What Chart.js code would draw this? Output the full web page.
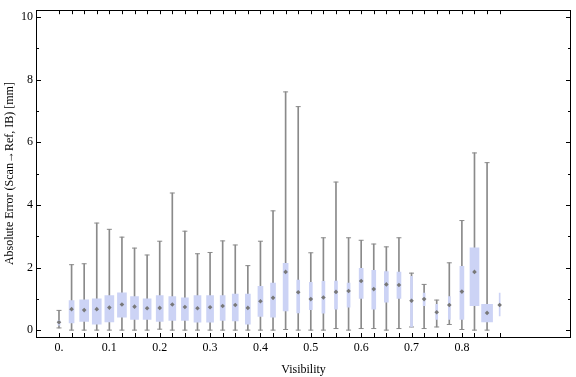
<!DOCTYPE html>
<html>
<head>
<meta charset="utf-8">
<script src="https://cdn.jsdelivr.net/npm/chart.js@4.4.1/dist/chart.umd.min.js"></script>
<style>
  body { margin: 0; background: #fff; }
  #box { display: block; }
</style>
</head>
<body>
<canvas id="box" width="576" height="377"></canvas>
<script>
// visibility bins (x position of each box)
var visibility = [0, 0.025, 0.05, 0.075, 0.1, 0.125, 0.15, 0.175, 0.2, 0.225, 0.25, 0.275,
  0.3, 0.325, 0.35, 0.375, 0.4, 0.425, 0.45, 0.475, 0.5, 0.525, 0.55, 0.575,
  0.6, 0.625, 0.65, 0.675, 0.7, 0.725, 0.75, 0.775, 0.8, 0.825, 0.85, 0.875];

// absolute error stats [mm]
var whiskerLow = [0.07, 0, 0, 0, 0, 0, 0, 0, 0.03, 0, 0, 0,
  0, 0, 0, 0, 0, 0, 0.02, 0, 0, 0, 0.05, 0,
  0.05, 0.05, 0, 0.05, 0.10, 0.05, 0.10, 0.18, 0.02, 0, 0, null];
var quart1 = [0.16, 0.23, 0.28, 0.19, 0.26, 0.41, 0.34, 0.34, 0.28, 0.31, 0.31, 0.25,
  0.25, 0.31, 0.29, 0.19, 0.44, 0.41, 0.61, 0.55, 0.65, 0.54, 0.67, 0.73,
  1.01, 0.67, 0.89, 1.01, 0.10, 0.78, 0.34, 0.34, 0.34, 0.78, 0.26, 0.45];
var median = [0.25, 0.67, 0.64, 0.67, 0.72, 0.82, 0.75, 0.70, 0.71, 0.82, 0.74, 0.70,
  0.73, 0.77, 0.80, 0.71, 0.92, 1.03, 1.86, 1.21, 0.99, 1.04, 1.22, 1.25,
  1.57, 1.31, 1.46, 1.44, 0.94, 0.99, 0.57, 0.80, 1.23, 1.86, 0.55, 0.80];
var quart3 = [0.31, 0.94, 0.97, 1.00, 1.10, 1.19, 1.07, 1.00, 1.10, 1.07, 1.03, 1.10,
  1.10, 1.10, 1.15, 1.15, 1.40, 1.50, 2.13, 1.60, 1.53, 1.56, 1.57, 1.50,
  1.97, 1.91, 1.87, 1.85, 1.72, 1.18, 0.82, 1.07, 2.04, 2.63, 0.82, 1.18];
var whiskerHigh = [0.63, 2.09, 2.12, 3.42, 3.22, 2.97, 2.62, 2.40, 2.84, 4.38, 3.16, 2.44,
  2.48, 2.85, 2.72, 2.06, 2.84, 3.81, 7.61, 7.14, 2.47, 2.95, 4.73, 2.95,
  2.87, 2.75, 2.66, 2.95, 1.82, 1.46, 0.96, 2.15, 3.50, 5.66, 5.35, null];

var yLabels = [0, 2, 4, 6, 8, 10];
var xLabels = ['0.', '0.1', '0.2', '0.3', '0.4', '0.5', '0.6', '0.7', '0.8'];

// drawn width of each box in px (style only)
var boxPx = [2, 5, 9, 9, 9, 9, 8, 8, 7, 7, 7, 7,
  7, 5, 6, 5, 5, 5, 5, 3, 3, 3, 3, 3,
  4, 4, 4, 4, 2, 2, 2, 2, 4, 9, 11, 1];

var FONT = '"Liberation Serif", "Times New Roman", serif';
var GREY = 'rgb(138,138,138)';
var BOXFILL = 'rgb(204,211,245)';

var datasets = [];

var whiskerData = [], capData = [], medData = [];
visibility.forEach(function (v, i) {
  if (whiskerLow[i] !== null) {
    whiskerData.push({ x: v, y: [whiskerLow[i], whiskerHigh[i]] });
    capData.push({ x: v, y: whiskerLow[i] });
    capData.push({ x: v, y: whiskerHigh[i] });
  }
  medData.push({ x: v, y: median[i] });
});

datasets.push({
  type: 'bar', data: whiskerData, backgroundColor: GREY,
  barThickness: 1, grouped: false, order: 5
});
datasets.push({
  type: 'line', data: capData, showLine: false, pointStyle: 'line',
  pointRadius: 2.5, borderColor: GREY, borderWidth: 1, order: 4
});
visibility.forEach(function (v, i) {
  datasets.push({
    type: 'bar', data: [{ x: v, y: [quart1[i], quart3[i]] }],
    backgroundColor: BOXFILL, barThickness: boxPx[i], grouped: false, order: 3
  });
});
datasets.push({
  type: 'line', data: medData, showLine: false, pointStyle: 'rectRot',
  pointRadius: 2.3, backgroundColor: 'rgb(120,120,120)', borderWidth: 0, order: 1
});

// frame + inward tick marks, Mathematica style
var frameTicks = {
  id: 'frameTicks',
  afterDraw: function (chart) {
    var ctx = chart.ctx, a = chart.chartArea;
    var xs = chart.scales.x, ys = chart.scales.y;
    ctx.save();
    ctx.strokeStyle = '#000';
    ctx.lineWidth = 1;
    ctx.strokeRect(Math.round(a.left) + 0.5, Math.round(a.top) + 0.5,
      Math.round(a.right - a.left) - 1, Math.round(a.bottom - a.top));
    ctx.beginPath();
    ys.ticks.forEach(function (t) {
      if (t.value < -1e-6 || t.value > 10 + 1e-6) return;
      var y = Math.round(ys.getPixelForValue(t.value)) + 0.5;
      var len = Math.abs(t.value / 2 - Math.round(t.value / 2)) < 1e-6 ? 5 : 3;
      ctx.moveTo(a.left, y); ctx.lineTo(a.left + len, y);
      ctx.moveTo(a.right, y); ctx.lineTo(a.right - len, y);
    });
    xs.ticks.forEach(function (t) {
      if (t.value < -1e-6 || t.value > 0.876) return;
      var x = Math.round(xs.getPixelForValue(t.value)) + 0.5;
      ctx.moveTo(x, a.bottom); ctx.lineTo(x, a.bottom - 4);
      ctx.moveTo(x, a.top); ctx.lineTo(x, a.top + 4);
    });
    ctx.stroke();
    ctx.restore();
  }
};

new Chart(document.getElementById('box'), {
  type: 'bar',
  data: { datasets: datasets },
  options: {
    responsive: false,
    animation: false,
    layout: { padding: { top: 4, right: 3, left: 0, bottom: 0 } },
    plugins: { legend: { display: false }, tooltip: { enabled: false } },
    scales: {
      x: {
        type: 'linear', min: -0.033, max: 1.004,
        grid: { display: false, drawTicks: false }, border: { display: false },
        afterFit: function (s) { s.height = 40; },
        ticks: {
          stepSize: 0.025, includeBounds: false, autoSkip: false, maxRotation: 0, minRotation: 0, padding: 4,
          color: '#000', font: { family: FONT, size: 12 },
          callback: function (v) {
            var k = Math.round(v * 40);
            if (Math.abs(v * 40 - k) > 1e-6 || k % 4 !== 0) return '';
            var lbl = xLabels[k / 4];
            return lbl === undefined ? '' : lbl;
          }
        },
        title: { display: true, text: 'Visibility', color: '#000',
          font: { family: FONT, size: 12 }, padding: { top: 0, bottom: 0 } }
      },
      y: {
        min: -0.22, max: 10.22,
        grid: { display: false, drawTicks: false }, border: { display: false },
        afterFit: function (s) { s.width = 36; },
        ticks: {
          stepSize: 0.5, includeBounds: false, padding: 3, color: '#000', font: { family: FONT, size: 12 },
          callback: function (v) {
            return yLabels.indexOf(Math.round(v * 1000) / 1000) >= 0 ? String(Math.round(v)) : '';
          }
        },
        title: { display: true, text: 'Absolute Error (Scan\u2192Ref, IB) [mm]', color: '#000',
          font: { family: FONT, size: 12 }, padding: { top: 3, bottom: 0 } }
      }
    }
  },
  plugins: [frameTicks]
});
</script>
</body>
</html>
